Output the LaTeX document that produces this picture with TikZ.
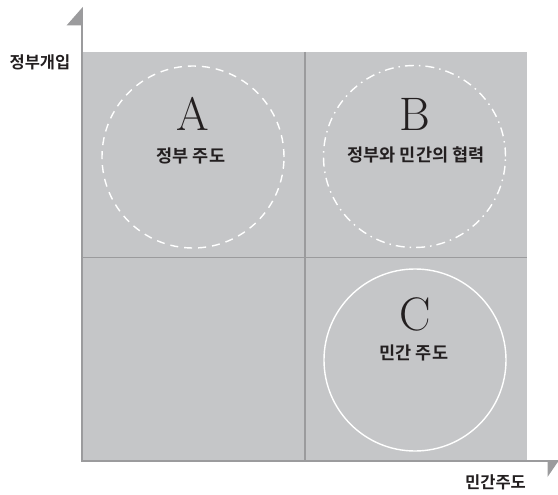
\documentclass[tikz,border=0pt]{standalone}
\usepackage{fontspec}
\newfontfamily\kr{Noto Sans CJK KR}[BoldFont={Noto Sans CJK KR Bold}]
\definecolor{panel}{RGB}{197,198,200}
\definecolor{rule}{RGB}{155,155,157}
\definecolor{ink}{RGB}{35,31,32}
\tikzset{
  quad/.style={fill=panel, draw=none},
  divider/.style={draw=rule, line width=1.6pt},
  axisline/.style={draw=rule, line width=1.6pt},
  tipfill/.style={fill=rule, draw=none},
  ring/.style={circle, minimum size=182pt, inner sep=0pt, draw=white, line width=1.4pt},
  dashring/.style={ring, dash pattern=on 8pt off 6pt},
  dotring/.style={ring, dash pattern=on 9pt off 5pt on 1.5pt off 5pt},
  letter/.style={inner sep=0pt, text=ink, font=\fontsize{47}{50}\selectfont},
  label/.style={inner sep=0pt, text=ink, font=\kr\bfseries\fontsize{17.5}{20}\selectfont},
  axislabel/.style={inner sep=0pt, text=ink, font=\kr\bfseries\fontsize{16.5}{19}\selectfont}
}
\begin{document}
\begin{tikzpicture}[x=1pt, y=-1pt]
\useasboundingbox (0,0) rectangle (558,495);
% panel
\fill[quad] (82,52) rectangle (527,461);
\draw[divider] (305,52) -- (305,461);
\draw[divider] (82,257.5) -- (527,257.5);
% axes
\coordinate (O) at (82,461);
\coordinate (Y) at (82,25);
\coordinate (X) at (548,461);
\draw[axisline] (Y) -- (O) -- (X);
\fill[tipfill] (82.8,7) -- (82.8,25.5) -- (66.5,25.5) -- cycle;
\fill[tipfill] (547.5,460.2) -- (559,460.2) -- (547.5,477) -- cycle;
% circles
\node[dashring] (ca) at (193,157) {};
\node[dotring] (cb) at (414.5,156.5) {};
\node[ring] (cc) at (415,360) {};
% texts
\node[letter] (la) at (193,114) {A};
\node[label] (ta) at (191,156) {정부 주도};
\node[letter] (lb) at (415,114) {B};
\node[label] (tb) at (416,155) {정부와 민간의 협력};
\node[letter] (lc) at (415,314) {C};
\node[label] (tc) at (414,353) {민간 주도};
\node[axislabel] (ly) at (40,62) {정부개입};
\node[axislabel] (lx) at (495.5,482) {민간주도};
\end{tikzpicture}
\end{document}
